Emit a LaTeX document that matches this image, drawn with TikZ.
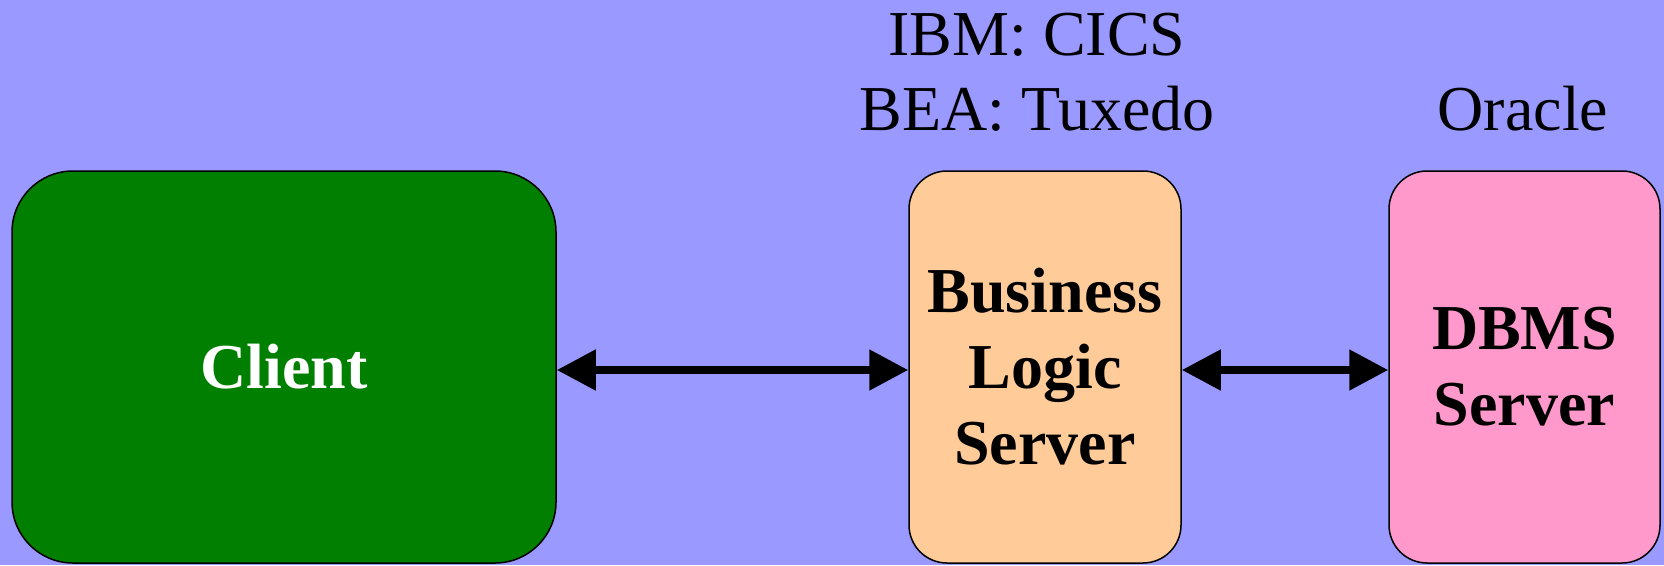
\documentclass[tikz,border=0pt]{standalone}
\usepackage{fontspec}
\setmainfont{Liberation Serif}
\usetikzlibrary{arrows.meta}
\definecolor{bg}{HTML}{9999FF}
\definecolor{clientgreen}{HTML}{007F00}
\definecolor{bizorange}{HTML}{FFCC99}
\definecolor{dbpink}{HTML}{FF99CC}
\tikzset{
  box/.style={draw=black, line width=1.5pt, inner sep=0pt, align=center,
    font=\fontsize{64}{76}\selectfont\bfseries},
  lbl/.style={inner sep=0pt, anchor=base, font=\fontsize{64}{76}\selectfont},
  link/.style={line width=8pt, {Triangle[length=39pt,width=39pt]}-{Triangle[length=39pt,width=39pt]}, shorten <=0pt, shorten >=0pt}
}
\begin{document}
\begin{tikzpicture}[x=1pt,y=-1pt]
\fill[bg] (0,0) rectangle (1664,565);
\useasboundingbox (0,0) rectangle (1664,565);
\node[box, fill=clientgreen, text=white, rounded corners=61pt, minimum width=544pt, minimum height=392pt] (client) at (284,367) {Client};
\node[box, fill=bizorange, rounded corners=38pt, minimum width=272pt, minimum height=392pt] (biz) at (1045,367) {Business\\Logic\\Server};
\node[box, fill=dbpink, rounded corners=38pt, minimum width=271pt, minimum height=392pt] (db) at (1524.5,367) {DBMS\\Server};
\node[lbl] (ibm) at (1037,55) {IBM: CICS};
\node[lbl] (bea) at (1037,130) {BEA: Tuxedo};
\node[lbl] (oracle) at (1523,130) {Oracle};
\draw[link] (client.east |- 0,370) -- (biz.west |- 0,370);
\draw[link] (biz.east |- 0,370) -- (db.west |- 0,370);
\end{tikzpicture}
\end{document}
